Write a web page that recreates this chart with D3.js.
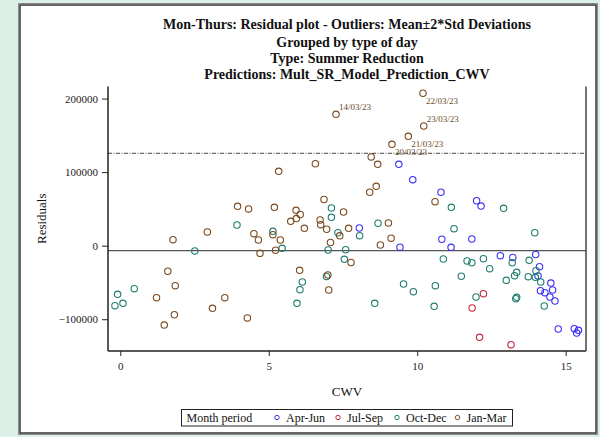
<!DOCTYPE html>
<html>
<head>
<meta charset="utf-8">
<script src="https://cdn.jsdelivr.net/npm/d3@7"></script>
<style>
  body { margin: 0; background: #dbf1e8; }
  svg { display: block; }
  text { font-family: "Liberation Serif", "Times New Roman", serif; }
</style>
</head>
<body>
<div id="chart"></div>
<script>
// 数据：CWV 与残差
const groups = ["Apr-Jun", "Jul-Sep", "Oct-Dec", "Jan-Mar"];

const aprJunX = [9.38, 9.85, 10.80, 12.00, 12.15, 8.05, 10.83, 11.84, 11.14, 9.42, 12.80, 13.22, 13.99,
  14.12, 14.07, 14.15, 14.30, 14.50, 14.56, 14.47, 14.64, 14.75, 15.29, 15.43, 15.37];
const aprJunY = [110600, 89700, 72600, 61100, 53900, 24000, 8700, 9100, -2200, -2100, -13600, -16100, -12000,
  -28600, -41200, -61200, -63900, -50800, -60300, -69800, -75200, -113300, -112900, -115100, -118700];

const julSepX = [12.23, 11.85, 12.10, 13.16];
const julSepY = [-65300, -84700, -124600, -134600];

const octDecX = [3.93, 5.14, 5.45, 2.51, 7.11, 7.11, 7.33, 7.00, 6.945, -0.18, -0.09, 0.09, 0.47, 5.95, 6.05,
  6.13, 8.57, 9.54, 9.87, 7.545, 7.59, 8.06, 8.68, 11.24, 13.96, 10.88, 11.68, 11.84, 12.23, 13.20, 13.77,
  14.00, 13.98, 14.16, 13.74, 13.35, 13.28, 13.00, 12.44, 11.485, 10.61, 10.57, 11.98, 13.32, 13.35, 14.28,
  11.15, 12.91];
const octDecY = [28100, 19500, -3600, -7200, 51200, 38600, 17600, -5900, -41900, -81600, -66100, -78400, -58500,
  -78400, -59900, -49400, -78400, -52100, -62600, -18500, -5500, 13600, 30500, 23100, 17600, -18100, -20800,
  -23200, -17700, -23200, -19900, -34000, -43000, -49400, -42200, -36200, -40800, -47100, -31300, -41600,
  -54400, -82400, -69800, -72100, -70200, -82000, 52200, 50800];

const janMarX = [7.265, 10.195, 10.22, 9.70, 9.15, 8.45, 8.67, 6.57, 5.335, 8.62, 8.40, 10.60, 6.86, 3.95,
  4.32, 5.19, 5.92, 6.06, 5.93, 5.74, 6.20, 6.73, 6.75, 6.95, 4.50, 5.14, 4.65, 5.39, 1.775, 2.93, 7.08,
  4.705, 5.23, 7.39, 1.60, 6.04, 6.99, 1.22, 1.48, 1.82, 1.85, 3.105, 3.52, 4.28, 7.02, 7.52, 7.69, 9.03,
  8.76, 9.12, 7.77];
const janMarY = [178600, 207200, 162700, 148700, 137800, 120600, 110600, 111400, 101100, 80700, 72600, 59800,
  62800, 53500, 49900, 52200, 48100, 42400, 36900, 33100, 23600, 34900, 28500, 22300, 16300, 14900, 7700,
  7700, 8100, 18600, 4300, -10400, -6200, 13400, -34800, -33500, -39900, -70700, -107900, -93900, -54400,
  -85200, -70700, -98300, -60300, 45800, 23600, 30800, 900, 10200, -22900];

// 离群点标签
const outlierLabels = ["14/03/23", "22/03/23", "23/03/23", "21/03/23", "20/03/23"];
const outlierX = [7.265, 10.195, 10.22, 9.70, 9.15];
const outlierY = [178600, 207200, 162700, 148700, 137800];

// 均值与 均值+2*标准差
const meanValue = -6800;
const upperLimit = 125600;

const xTicks = [0, 5, 10, 15];
const yTicks = [-100000, 0, 100000, 200000];

const colors = { "Apr-Jun": "#3b30f5", "Jul-Sep": "#c8283c", "Oct-Dec": "#1f7d6e", "Jan-Mar": "#7a4a1e" };

const width = 600, height = 437;
const margin = { left: 108, right: 14, top: 86.5, bottom: 86 };

const svg = d3.select("#chart").append("svg")
  .attr("width", width).attr("height", height);

// 外框
svg.append("rect")
  .attr("x", 18.5).attr("y", 3.5).attr("width", 579).attr("height", 431)
  .attr("fill", "#ffffff").attr("stroke", "#8a8a8a").attr("stroke-width", 1);
svg.append("rect")
  .attr("x", 20).attr("y", 5).attr("width", 576).attr("height", 428)
  .attr("fill", "none").attr("stroke", "#333").attr("stroke-width", 1.5);

const x = d3.scaleLinear().domain([-0.414, 15.685]).range([margin.left, width - margin.right]);
const y = d3.scaleLinear().domain([-143200, 216400]).range([height - margin.bottom, margin.top]);

// 标题
const titles = [
  "Mon-Thurs: Residual plot - Outliers: Mean\u00b12*Std Deviations",
  "Grouped by type of day",
  "Type: Summer Reduction",
  "Predictions: Mult_SR_Model_Prediction_CWV"
];
const titleY = [29, 47, 63, 79];
titles.forEach((t, i) => {
  svg.append("text")
    .attr("x", 347).attr("y", titleY[i])
    .attr("text-anchor", "middle")
    .attr("font-weight", "bold")
    .attr("font-size", "14px")
    .attr("fill", "#111")
    .text(t);
});

// 参考线
svg.append("line")
  .attr("x1", x.range()[0]).attr("x2", x.range()[1])
  .attr("y1", y(meanValue)).attr("y2", y(meanValue))
  .attr("stroke", "#555").attr("stroke-width", 1.3);
svg.append("line")
  .attr("x1", x.range()[0]).attr("x2", x.range()[1])
  .attr("y1", y(upperLimit)).attr("y2", y(upperLimit))
  .attr("stroke", "#111").attr("stroke-width", 0.8)
  .attr("stroke-dasharray", "4,1.5,1,1.5");

// 坐标轴
const xAxis = svg.append("g")
  .attr("transform", `translate(0,${height - margin.bottom})`)
  .call(d3.axisBottom(x).tickValues(xTicks).tickSize(5).tickPadding(6));
const yAxis = svg.append("g")
  .attr("transform", `translate(${margin.left},0)`)
  .call(d3.axisLeft(y).tickValues(yTicks).tickSize(6).tickPadding(4).tickFormat(d3.format("d")));

[xAxis, yAxis].forEach(a => {
  a.select(".domain").attr("stroke", "#222").attr("stroke-width", 1.5);
  a.selectAll(".tick line").attr("stroke", "#222");
  a.selectAll(".tick text")
    .attr("font-size", "11px").attr("fill", "#222");
});
xAxis.select(".domain").attr("d", `M${x.range()[0]},0H${x.range()[1]}`);
yAxis.select(".domain").attr("d", `M0,${y.range()[0]}V${y.range()[1]}`);

// 右侧框线
svg.append("line")
  .attr("x1", x.range()[1]).attr("x2", x.range()[1])
  .attr("y1", y.range()[1]).attr("y2", y.range()[0])
  .attr("stroke", "#444").attr("stroke-width", 1.5);

// 轴标题
svg.append("text")
  .attr("x", 347).attr("y", 396)
  .attr("text-anchor", "middle")
  .attr("font-size", "13px").attr("fill", "#111")
  .text("CWV");
svg.append("text")
  .attr("transform", `translate(46,${(y.range()[0] + y.range()[1]) / 2}) rotate(-90)`)
  .attr("text-anchor", "middle")
  .attr("font-size", "13px").attr("fill", "#111")
  .text("Residuals");

// 散点
const series = [
  { name: "Apr-Jun", xs: aprJunX, ys: aprJunY },
  { name: "Jul-Sep", xs: julSepX, ys: julSepY },
  { name: "Oct-Dec", xs: octDecX, ys: octDecY },
  { name: "Jan-Mar", xs: janMarX, ys: janMarY }
];
const pts = svg.append("g");
series.forEach(s => {
  const data = s.xs.map((v, i) => [v, s.ys[i]]);
  pts.selectAll(null)
    .data(data)
    .enter()
    .append("circle")
    .attr("cx", d => x(d[0]))
    .attr("cy", d => y(d[1]))
    .attr("r", 3.2)
    .attr("fill", "none")
    .attr("stroke", colors[s.name])
    .attr("stroke-width", 1.1);
});

// 离群点标签
const labelAbove = new Set(["14/03/23", "23/03/23"]);
outlierLabels.forEach((lab, i) => {
  svg.append("text")
    .attr("x", x(outlierX[i]) + 3)
    .attr("y", y(outlierY[i]) + (labelAbove.has(lab) ? -4 : 10.5))
    .attr("font-size", "9px")
    .attr("fill", "#6b4a28")
    .text(lab);
});

// 图例
const legend = svg.append("g");
legend.append("rect")
  .attr("x", 181.5).attr("y", 409.5).attr("width", 331).attr("height", 16.5)
  .attr("fill", "none").attr("stroke", "#222").attr("stroke-width", 1);
legend.append("text")
  .attr("x", 186.5).attr("y", 422)
  .attr("font-size", "12px").attr("fill", "#111")
  .text("Month period");
const legendX = [277, 338, 397, 457.5];
groups.forEach((g, i) => {
  legend.append("circle")
    .attr("cx", legendX[i]).attr("cy", 417.5).attr("r", 2.2)
    .attr("fill", "none").attr("stroke", colors[g]).attr("stroke-width", 1);
  legend.append("text")
    .attr("x", legendX[i] + 9).attr("y", 422)
    .attr("font-size", "12px").attr("fill", "#111")
    .text(g);
});
</script>
</body>
</html>
